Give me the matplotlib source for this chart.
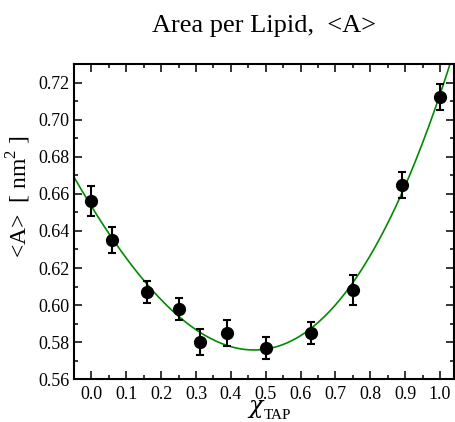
import numpy as np
import matplotlib
matplotlib.use('Agg')
import matplotlib.pyplot as plt
from matplotlib.ticker import MultipleLocator

# Data
chi_tap = [0.0, 0.06, 0.16, 0.25, 0.31, 0.39, 0.5, 0.63, 0.75, 0.89, 1.0]
area = [0.656, 0.635, 0.607, 0.598, 0.580, 0.585, 0.577, 0.585, 0.608, 0.665, 0.712]
area_err = [0.008, 0.007, 0.006, 0.006, 0.007, 0.007, 0.006, 0.006, 0.008, 0.007, 0.007]

plt.rcParams['font.family'] = ['Liberation Serif', 'DejaVu Serif']
plt.rcParams['mathtext.fontset'] = 'custom'
plt.rcParams['mathtext.rm'] = 'Liberation Serif'

fig = plt.figure(figsize=(4.56, 4.22), dpi=100)
ax = fig.add_axes([74 / 456, 1 - 379.3 / 422, 380 / 456, 315.3 / 422])

# polynomial fit through the points (green curve)
coef = np.polyfit(chi_tap, area, 3, w=1 / np.array(area_err))
xs = np.linspace(-0.05, 1.04, 300)
ax.plot(xs, np.polyval(coef, xs), color='#008b00', lw=1.2, zorder=2)

ax.errorbar(chi_tap, area, yerr=area_err, fmt='o', color='black', ms=8.5,
            elinewidth=1.5, capsize=3, capthick=1.5, zorder=3)

ax.set_xlim(-0.05, 1.04)
ax.set_ylim(0.56, 0.73)
ax.xaxis.set_major_locator(MultipleLocator(0.1))
ax.xaxis.set_minor_locator(MultipleLocator(0.05))
ax.yaxis.set_major_locator(MultipleLocator(0.02))
ax.yaxis.set_minor_locator(MultipleLocator(0.01))
ax.xaxis.set_major_formatter(plt.FuncFormatter(lambda v, p: f'{v:.1f}'))
ax.yaxis.set_major_formatter(plt.FuncFormatter(lambda v, p: f'{v:.2f}'))

ax.tick_params(which='both', direction='in', top=True, right=True,
               labelsize=13, width=1.1)
ax.tick_params(axis='x', pad=5)
ax.tick_params(axis='y', pad=3)
ax.tick_params(which='major', length=6)
ax.tick_params(which='minor', length=3)
for s in ax.spines.values():
    s.set_linewidth(1.5)

# x label: chi with subscript TAP
fig.text(256 / 456, 1 - 413 / 422, 'χ', ha='center', va='baseline',
         fontsize=17, family='DejaVu Serif', style='italic')
fig.text(264 / 456, 1 - 419 / 422, 'TAP', ha='left', va='baseline', fontsize=11)

ax.set_ylabel(r'<A>  [ nm$^{2}$ ]', fontsize=17)
ax.yaxis.set_label_coords(-0.108, 0.578)

fig.text(0.579, 1 - 32 / 422, 'Area per Lipid,  <A>', ha='center',
         va='baseline', fontsize=19)

fig.savefig('out.png', dpi=100)
